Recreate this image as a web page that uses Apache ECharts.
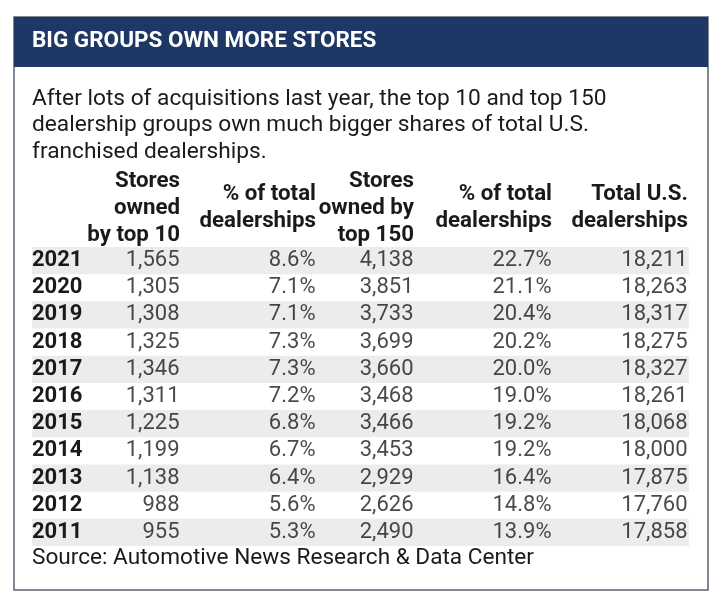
<!DOCTYPE html>
<html>
<head>
<meta charset="utf-8">
<script src="https://cdn.jsdelivr.net/npm/echarts@6/dist/echarts.min.js"></script>
<style>
  html, body { margin: 0; padding: 0; background: #fff; }
  #chart { width: 720px; height: 611px; }
</style>
</head>
<body>
<div id="chart"></div>
<script>
// table data
const years = ['2021', '2020', '2019', '2018', '2017', '2016', '2015', '2014', '2013', '2012', '2011'];
const top10Stores = [1565, 1305, 1308, 1325, 1346, 1311, 1225, 1199, 1138, 988, 955];
const top10Pct = [8.6, 7.1, 7.1, 7.3, 7.3, 7.2, 6.8, 6.7, 6.4, 5.6, 5.3];
const top150Stores = [4138, 3851, 3733, 3699, 3660, 3468, 3466, 3453, 2929, 2626, 2490];
const top150Pct = [22.7, 21.1, 20.4, 20.2, 20.0, 19.0, 19.2, 19.2, 16.4, 14.8, 13.9];
const totalDealers = [18211, 18263, 18317, 18275, 18327, 18261, 18068, 18000, 17875, 17760, 17858];
const headers = [
  'Stores\nowned\nby top 10',
  '% of total\ndealerships',
  'Stores\nowned by\ntop 150',
  '% of total\ndealerships',
  'Total U.S.\ndealerships'
];

const title = 'BIG GROUPS OWN MORE STORES';
const subtitle = 'After lots of acquisitions last year, the top 10 and top 150\ndealership groups own much bigger shares of total U.S.\nfranchised dealerships.';
const source = 'Source: Automotive News Research & Data Center';

// layout (pixels)
const gridLeft = 32, gridRight = 31, gridTop = 247, gridBottom = 65;
const gridW = 720 - gridLeft - gridRight;
const colRight = [148, 284, 382, 520, 656]; // right edge of each column, within grid
const ink = '#1a1a1a';
const navy = '#1e3865';

const fmtInt = v => v.toLocaleString('en-US');
const fmtPct = v => v.toFixed(1) + '%';

const columns = [
  top10Stores.map(fmtInt),
  top10Pct.map(fmtPct),
  top150Stores.map(fmtInt),
  top150Pct.map(fmtPct),
  totalDealers.map(fmtInt)
];

const cells = [];
columns.forEach((col, c) => {
  col.forEach((txt, r) => cells.push([colRight[c], years[r], txt]));
});

const myChart = echarts.init(document.getElementById('chart'), null, { renderer: 'canvas' });

const option = {
  animation: false,
  backgroundColor: '#fff',
  textStyle: { fontFamily: 'Roboto' },
  grid: { left: gridLeft, right: gridRight, top: gridTop, bottom: gridBottom },
  xAxis: {
    type: 'value', min: 0, max: gridW, show: false
  },
  yAxis: {
    type: 'category',
    data: years,
    inverse: true,
    axisLine: { show: false },
    axisTick: { show: false, interval: 0 },
    axisLabel: {
      interval: 0,
      inside: true, margin: 0, color: ink,
      fontFamily: 'Roboto', fontSize: 22, fontWeight: 'bold'
    },
    splitLine: { show: false },
    splitArea: {
      show: true, interval: 0,
      areaStyle: { color: ['#ececec', 'rgba(255,255,255,0)'] }
    }
  },
  series: [{
    type: 'scatter',
    data: cells,
    symbolSize: 1,
    itemStyle: { color: 'rgba(0,0,0,0)' },
    label: {
      show: true,
      position: 'left',
      distance: 0,
      color: ink,
      fontFamily: 'Roboto',
      fontSize: 22,
      formatter: p => p.data[2]
    },
    silent: true
  }],
  graphic: [
    {
      type: 'rect', z: -1,
      shape: { x: 14, y: 17, width: 694, height: 573 },
      style: { fill: '#fff', stroke: '#5a6072', lineWidth: 1.5 }
    },
    {
      type: 'rect',
      shape: { x: 14, y: 17, width: 694, height: 50 },
      style: { fill: navy }
    },
    {
      type: 'text', left: 32, top: 30,
      style: { text: title, fill: '#fff', font: 'bold 22.5px Roboto' }
    },
    {
      type: 'text', left: 32, top: 86,
      style: { text: subtitle, fill: ink, font: '22.7px Roboto', lineHeight: 26.5 }
    },
    ...headers.map((h, i) => ({
      type: 'text',
      x: gridLeft + colRight[i], y: 208,
      style: {
        text: h, fill: ink, font: 'bold 22.3px Roboto', lineHeight: 27,
        textAlign: 'right', textVerticalAlign: 'middle'
      }
    })),
    {
      type: 'text', left: 32, top: 547,
      style: { text: source, fill: ink, font: '22.6px Roboto' }
    }
  ]
};

option && myChart.setOption(option);
</script>
</body>
</html>
